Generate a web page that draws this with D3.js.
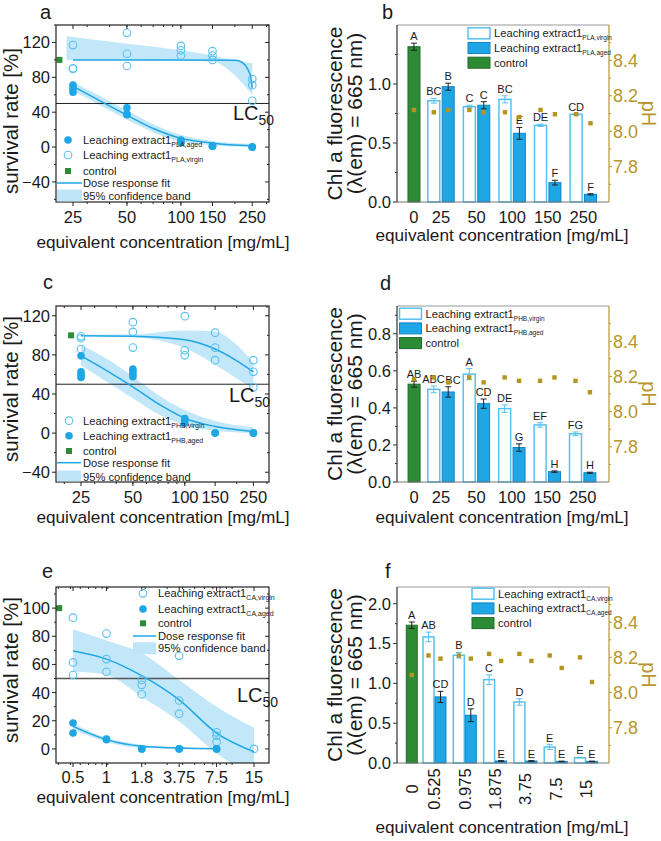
<!DOCTYPE html>
<html><head><meta charset="utf-8">
<script src="https://cdn.jsdelivr.net/npm/d3@7"></script>
<style>body{margin:0;background:#fff}text{font-family:"Liberation Sans",Arial,sans-serif;fill:#1a1a1a}</style>
</head><body><script>
// ---------------- DATA ----------------
// Panel a (PLA survival)
const concPLA = [25, 50, 100, 150, 250];
const survPLAvirgin = [[117, 90, 90], [131, 107, 93], [116, 111, 105], [110, 105, 100], [78, 71, 53]];
const survPLAaged = [[71, 67, 63], [45, 38, 37], [8, 6, 5], [1.5, 1, 1], [0, 0, 0]];
const ctrlPLA = [21, 100];
const fitPLAvirgin = [[25, 100], [100, 100], [200, 99.5], [220, 97], [235, 90], [245, 80], [250, 68]];
const bandPLAvirginUp = [[23, 127], [50, 118.5], [100, 111], [150, 105], [200, 99], [250, 96]];
const bandPLAvirginLo = [[23, 100], [50, 100], [100, 99], [150, 98], [200, 82], [250, 60]];
const fitPLAaged = [[25, 69.7], [35.4, 53], [50, 36.6], [70.7, 21], [100, 10], [150, 4.5], [250, 1.5]];
const bandPLAagedUp = [[25, 75], [35.4, 58.5], [50, 42], [70.7, 26], [100, 14], [150, 7], [250, 3.5]];
const bandPLAagedLo = [[25, 64.5], [35.4, 48], [50, 31.5], [70.7, 16.5], [100, 6], [150, 2], [250, 0]];

// Panel c (PHB survival)
const concPHB = [25, 50, 100, 150, 250];
const survPHBvirgin = [[99, 97, 86], [113.5, 103.5, 87.5], [119.6, 84.7, 79.6], [102.7, 87.5, 74.6], [74.6, 62.7, 46.8]];
const survPHBaged = [[79, 62.7, 60, 57], [65.4, 62.7, 60, 57.6], [15, 13, 10], [0, 0], [0, 0]];
const ctrlPHB = [21.9, 100];
const fitPHBvirgin = [[25, 99.5], [50, 99], [100, 95.5], [150, 86], [192, 76], [250, 62.7]];
const bandPHBvirginUp = [[25, 100.5], [50, 101], [100, 105], [150, 104], [192, 93], [250, 72]];
const bandPHBvirginLo = [[25, 99.5], [50, 98], [100, 87], [150, 70], [192, 58], [250, 45]];
const fitPHBaged = [[25, 79], [35.2, 64], [50, 47.4], [71.7, 29], [100, 15.2], [150, 6.8], [250, 1.7]];
const bandPHBagedUp = [[25, 90], [35.2, 76], [50, 58], [71.7, 38], [100, 23.7], [150, 12.5], [250, 6]];
const bandPHBagedLo = [[25, 69.5], [35.2, 52.5], [50, 35.6], [71.7, 18.6], [100, 8.5], [150, 2.3], [250, 0]];

// Panel e (CA survival)
const concCA = [0.525, 0.975, 1.875, 3.75, 7.5, 15];
const tickLabelsCA = ["0.5", "1", "1.8", "3.75", "7.5", "15"];
const survCAvirgin = [[93.2, 61.4, 52.5], [81.9, 63.8, 54.8], [49, 45.5, 38.8], [66.1, 34.4, 25], [11.8, 9.4, 5], [0]];
const survCAaged = [[18.4, 11.3], [7, 6.6], [0, 0], [0, 0], [0, 0]];
const ctrlCA = [0.406, 100];
const fitCAvirgin = [[0.525, 69.5], [0.975, 63.8], [1.875, 52], [3.75, 34.8], [7.5, 11.3], [15, -2]];
const bandCAvirginUp = [[0.525, 85], [0.975, 77], [1.875, 68], [3.75, 49], [7.5, 30], [15, 15]];
const bandCAvirginLo = [[0.525, 55], [0.975, 52.5], [1.875, 37], [3.75, 19.5], [7.5, -3], [15, -20]];
const fitCAaged = [[0.525, 16], [0.975, 6.6], [1.875, 1.9], [3.75, 0.7], [7.5, 0.2]];
const bandCAagedUp = [[0.525, 18], [0.975, 8], [1.875, 3], [3.75, 1.2], [7.5, 0.6]];
const bandCAagedLo = [[0.525, 14], [0.975, 5], [1.875, 0.8], [3.75, 0], [7.5, 0]];

// Panel b (PLA Chl a)
const groupsPLA = ["25", "50", "100", "150", "250"];
const chlPLAvirgin = [0.858, 0.808, 0.870, 0.650, 0.743];
const errPLAvirgin = [0.02, 0.012, 0.03, 0.01, 0.006];
const chlPLAaged = [0.977, 0.820, 0.582, 0.164, 0.065];
const errPLAaged = [0.03, 0.03, 0.05, 0.02, 0.005];
const chlPLActrl = [1.316, 0.03];
const letPLAvirgin = ["BC", "C", "BC", "DE", "CD"];
const letPLAaged = ["B", "C", "E", "F", "F"];
const letPLActrl = "A";
const phPLAvirgin = [8.107, 8.12, 8.107, 8.12, 8.096];
const phPLAaged = [8.12, 8.107, 8.08, 8.096, 8.045];
const phPLActrl = 8.12;

// Panel d (PHB Chl a)
const groupsPHB = ["25", "50", "100", "150", "250"];
const chlPHBvirgin = [0.50, 0.582, 0.396, 0.308, 0.26];
const errPHBvirgin = [0.018, 0.03, 0.02, 0.012, 0.01];
const chlPHBaged = [0.486, 0.423, 0.186, 0.056, 0.05];
const errPHBaged = [0.028, 0.025, 0.02, 0.004, 0.003];
const chlPHBctrl = [0.528, 0.016];
const letPHBvirgin = ["ABC", "A", "DE", "EF", "FG"];
const letPHBaged = ["BC", "CD", "G", "H", "H"];
const letPHBctrl = "AB";
const phPHBvirgin = [8.194, 8.194, 8.194, 8.175, 8.175];
const phPHBaged = [8.166, 8.166, 8.175, 8.194, 8.11];
const phPHBctrl = 8.184;

// Panel f (CA Chl a)
const groupsCA = ["0.525", "0.975", "1.875", "3.75", "7.5", "15"];
const chlCAvirgin = [1.583, 1.353, 1.047, 0.766, 0.20, 0.067];
const errCAvirgin = [0.06, 0.035, 0.06, 0.04, 0.03, 0.004];
const chlCAaged = [0.83, 0.60, 0.025, 0.025, 0.02, 0.02];
const errCAaged = [0.07, 0.08, 0.004, 0.004, 0.003, 0.003];
const chlCActrl = [1.73, 0.04];
const letCAvirgin = ["AB", "B", "C", "D", "E", "E"];
const letCAaged = ["CD", "D", "E", "E", "E", "E"];
const letCActrl = "A";
const phCAvirgin = [8.211, 8.211, 8.22, 8.22, 8.211, 8.2];
const phCAaged = [8.193, 8.193, 8.18, 8.18, 8.14, 8.06];
const phCActrl = 8.10;

// ---------------- STYLE ----------------
const C_AGED = "#1fa6e5", C_AGED_S = "#1683c4", C_VIR = "#56c1f1", C_BAND = "#bfe6f8",
      C_CTRL = "#2e8b35", C_CTRL_S = "#1f6b28", C_PH = "#b5941f", C_PHT = "#b8962e";
const XTITLE = "equivalent concentration [mg/mL]";
const FS_TICK = 16.5, FS_XT = 17.2, FS_YT = 20.5, FS_LET = 20;

const svg = d3.select("body").append("svg").attr("width", 661).attr("height", 841);
let clipN = 0;

function subText(g, x, y, main, sub, size, subSize, dy) {
  const t = g.append("text").attr("x", x).attr("y", y).attr("font-size", size).text(main);
  if (sub) t.append("tspan").attr("font-size", subSize).attr("dy", dy).text(sub);
  return t;
}

// ---------------- SCATTER PANEL ----------------
function scatter(o) {
  const g = svg.append("g");
  const x = d3.scaleLog().domain(o.xDom).range([o.L, o.R]);
  const y = d3.scaleLinear().domain(o.yDom).range([o.B, o.T]);
  const id = "clip" + (clipN++);
  svg.append("clipPath").attr("id", id).append("rect")
    .attr("x", o.L).attr("y", o.T).attr("width", o.R - o.L).attr("height", o.B - o.T);
  const pg = g.append("g").attr("clip-path", `url(#${id})`);
  const area = (up, lo) => d3.area().x((d, i) => x(up[i][0])).y1((d, i) => y(up[i][1])).y0((d, i) => y(lo[i][1])).curve(d3.curveMonotoneX)(up);
  o.bands.forEach(b => pg.append("path").attr("d", area(b[0], b[1])).attr("fill", C_BAND).attr("opacity", 0.95));
  pg.append("line").attr("x1", o.L).attr("x2", o.R).attr("y1", y(50)).attr("y2", y(50))
    .attr("stroke", o.lcColor).attr("stroke-width", o.lcW);
  const line = d3.line().x(d => x(d[0])).y(d => y(d[1])).curve(d3.curveMonotoneX);
  o.fits.forEach(f => pg.append("path").attr("d", line(f)).attr("fill", "none").attr("stroke", C_AGED).attr("stroke-width", 1.5));
  // points
  o.virgin.forEach((vals, i) => vals.forEach(v =>
    g.append("circle").attr("cx", x(o.conc[i])).attr("cy", y(v)).attr("r", 3.8)
      .attr("fill", "none").attr("stroke", C_VIR).attr("stroke-width", 1.1)));
  o.aged.forEach((vals, i) => vals.forEach(v =>
    g.append("circle").attr("cx", x(o.conc[i])).attr("cy", y(v)).attr("r", 3.8).attr("fill", C_AGED)));
  g.append("rect").attr("x", x(o.ctrl[0]) - 3).attr("y", y(o.ctrl[1]) - 3).attr("width", 6).attr("height", 6).attr("fill", C_CTRL);
  // frame
  g.append("rect").attr("x", o.L).attr("y", o.T).attr("width", o.R - o.L).attr("height", o.B - o.T)
    .attr("fill", "none").attr("stroke", "#222").attr("stroke-width", 1.2);
  // y ticks
  o.yTicks.forEach(t => {
    g.append("line").attr("x1", o.L - 4).attr("x2", o.L).attr("y1", y(t)).attr("y2", y(t)).attr("stroke", "#222");
    g.append("line").attr("x1", o.R).attr("x2", o.R - 4).attr("y1", y(t)).attr("y2", y(t)).attr("stroke", "#222");
    g.append("text").attr("x", o.L - 6).attr("y", y(t)).attr("dy", "0.36em").attr("text-anchor", "end")
      .attr("font-size", FS_TICK).text(t < 0 ? "\u2212" + Math.abs(t) : t);
  });
  o.yMinor.forEach(t => {
    g.append("line").attr("x1", o.L - 2).attr("x2", o.L).attr("y1", y(t)).attr("y2", y(t)).attr("stroke", "#222");
    g.append("line").attr("x1", o.R).attr("x2", o.R - 2).attr("y1", y(t)).attr("y2", y(t)).attr("stroke", "#222");
  });
  // x ticks
  x.ticks().filter(t => t > o.xDom[0] && t < o.xDom[1]).forEach(t => {
    g.append("line").attr("x1", x(t)).attr("x2", x(t)).attr("y1", o.B).attr("y2", o.B + 2).attr("stroke", "#222");
    g.append("line").attr("x1", x(t)).attr("x2", x(t)).attr("y1", o.T).attr("y2", o.T + 2).attr("stroke", "#222");
  });
  o.conc.forEach((c, i) => {
    g.append("line").attr("x1", x(c)).attr("x2", x(c)).attr("y1", o.B).attr("y2", o.B + 4).attr("stroke", "#222");
    g.append("line").attr("x1", x(c)).attr("x2", x(c)).attr("y1", o.T).attr("y2", o.T + 4).attr("stroke", "#222");
    g.append("text").attr("x", x(c)).attr("y", o.xLabY).attr("text-anchor", "middle").attr("font-size", FS_TICK).text(o.xLabels[i]);
  });
  g.append("text").attr("x", (o.L + o.R) / 2 + 0.5).attr("y", o.xTitleY).attr("text-anchor", "middle").attr("font-size", FS_XT).text(XTITLE);
  g.append("text").attr("transform", `translate(18,${o.yTitleC}) rotate(-90)`).attr("text-anchor", "middle")
    .attr("font-size", FS_YT).text("survival rate [%]");
  g.append("text").attr("x", o.letX).attr("y", o.letY).attr("font-size", FS_LET).text(o.letter);
  subText(g, o.lc[0], o.lc[1], "LC", "50", 20, 14, 5);
  // legend
  const lg = o.legend;
  lg.rows.forEach((r, i) => {
    const cy = lg.ys[i];
    if (r.type === "aged") g.append("circle").attr("cx", lg.sx).attr("cy", cy).attr("r", 3.8).attr("fill", C_AGED);
    if (r.type === "virgin") g.append("circle").attr("cx", lg.sx).attr("cy", cy).attr("r", 3.8).attr("fill", "none").attr("stroke", C_VIR).attr("stroke-width", 1.1);
    if (r.type === "ctrl") g.append("rect").attr("x", lg.sx - 3).attr("y", cy - 3).attr("width", 6).attr("height", 6).attr("fill", C_CTRL);
    if (r.type === "fit") g.append("line").attr("x1", lg.lx[0]).attr("x2", lg.lx[1]).attr("y1", cy).attr("y2", cy).attr("stroke", C_AGED).attr("stroke-width", 1.5);
    if (r.type === "band") g.append("rect").attr("x", lg.lx[0]).attr("y", cy - 6).attr("width", lg.lx[1] - lg.lx[0]).attr("height", Math.min(12, o.B - (cy - 6) - 0.6)).attr("fill", C_BAND);
    subText(g, lg.tx, cy + 4, r.text, r.sub, 11.2, 7, 3);
  });
}

// ---------------- BAR PANEL ----------------
function bars(o) {
  const g = svg.append("g");
  const y = d3.scaleLinear().domain([0, o.yMax]).range([o.B, o.T]);
  const yp = d3.scaleLinear().domain([7.6, 8.6]).range([o.B, o.T]);
  const n = o.groups.length;
  const gx = d3.scaleLinear().domain([1, n]).range([o.c1, o.cN]);
  const xc = gx(1 - o.ctrlGap);
  const vx = i => gx(i + 1) - o.off, ax = i => gx(i + 1) + o.off;
  const bw = o.bw;
  function bar(cx, v, fill, stroke, sw) {
    g.append("rect").attr("x", cx - bw / 2).attr("y", y(v)).attr("width", bw).attr("height", o.B - y(v))
      .attr("fill", fill).attr("stroke", stroke).attr("stroke-width", sw);
  }
  function err(cx, v, e, col) {
    g.append("line").attr("x1", cx).attr("x2", cx).attr("y1", y(v - e)).attr("y2", y(v + e)).attr("stroke", col);
    [v - e, v + e].forEach(w => g.append("line").attr("x1", cx - 3).attr("x2", cx + 3).attr("y1", y(w)).attr("y2", y(w)).attr("stroke", col));
  }
  function lab(cx, v, e, t) {
    g.append("text").attr("x", cx).attr("y", y(v + e) - 3).attr("text-anchor", "middle").attr("font-size", 11).text(t);
  }
  const sV = i => (o.shiftV ? o.shiftV[i] : 0), sA = i => (o.shiftA ? o.shiftA[i] : 0);
  bar(xc, o.ctrl[0], C_CTRL, C_CTRL_S, 1);
  err(xc, o.ctrl[0], o.ctrl[1], "#222");
  lab(xc, o.ctrl[0], o.ctrl[1], o.letCtrl);
  o.virgin.forEach((v, i) => { bar(vx(i), v, "#fff", C_VIR, 1.5); err(vx(i), v, o.vErr[i], C_VIR); lab(vx(i) + sV(i), v, o.vErr[i], o.letV[i]); });
  o.aged.forEach((v, i) => { bar(ax(i), v, C_AGED, C_AGED_S, 1); err(ax(i), v, o.aErr[i], "#222"); lab(ax(i) + sA(i), v, o.aErr[i], o.letA[i]); });
  // pH
  const sq = (cx, p) => g.append("rect").attr("x", cx - 2.2).attr("y", yp(p) - 2.2).attr("width", 4.4).attr("height", 4.4).attr("fill", C_PH);
  sq(xc, o.phCtrl);
  o.phV.forEach((p, i) => sq(vx(i), p));
  o.phA.forEach((p, i) => sq(ax(i), p));
  // frame
  g.append("line").attr("x1", o.L).attr("x2", o.R).attr("y1", o.T).attr("y2", o.T).attr("stroke", "#999");
  g.append("line").attr("x1", o.L).attr("x2", o.R).attr("y1", o.B).attr("y2", o.B).attr("stroke", "#777");
  g.append("line").attr("x1", o.L).attr("x2", o.L).attr("y1", o.T).attr("y2", o.B).attr("stroke", "#333").attr("stroke-width", 1.2);
  g.append("line").attr("x1", o.R).attr("x2", o.R).attr("y1", o.T).attr("y2", o.B).attr("stroke", C_PHT).attr("stroke-width", 1.2);
  // left ticks
  o.yTicks.forEach(t => {
    g.append("line").attr("x1", o.L - 4).attr("x2", o.L).attr("y1", y(t)).attr("y2", y(t)).attr("stroke", "#333");
    g.append("text").attr("x", o.L - 6).attr("y", y(t)).attr("dy", "0.36em").attr("text-anchor", "end").attr("font-size", FS_TICK).text(d3.format(".1f")(t));
  });
  o.yMinor.forEach(t => g.append("line").attr("x1", o.L - 2).attr("x2", o.L).attr("y1", y(t)).attr("y2", y(t)).attr("stroke", "#333"));
  // right pH ticks
  [7.8, 8.0, 8.2, 8.4].forEach(t => {
    g.append("line").attr("x1", o.R).attr("x2", o.R + 3).attr("y1", yp(t)).attr("y2", yp(t)).attr("stroke", C_PHT);
    g.append("text").attr("x", o.R + 4).attr("y", yp(t)).attr("dy", "0.36em").attr("font-size", 18).style("fill", C_PHT).text(d3.format(".1f")(t));
  });
  [7.7, 7.9, 8.1, 8.3, 8.5].forEach(t => g.append("line").attr("x1", o.R).attr("x2", o.R + 2).attr("y1", yp(t)).attr("y2", yp(t)).attr("stroke", C_PHT));
  g.append("text").attr("transform", `translate(642,${(o.T + o.B) / 2}) rotate(90)`).attr("text-anchor", "middle")
    .attr("font-size", 20).style("fill", C_PHT).text("pH");
  // x labels
  const labs = [["0", xc]].concat(o.groups.map((gname, i) => [gname, gx(i + 1)]));
  labs.forEach(([t, cx]) => {
    if (o.rotate) g.append("text").attr("transform", `translate(${cx},${o.xLabY}) rotate(-90)`).attr("text-anchor", "middle").attr("dy", "0.36em").attr("font-size", FS_TICK).text(t);
    else g.append("text").attr("x", cx).attr("y", o.xLabY).attr("text-anchor", "middle").attr("font-size", FS_TICK).text(t);
  });
  g.append("text").attr("x", 502).attr("y", o.xTitleY).attr("text-anchor", "middle").attr("font-size", FS_XT).text(XTITLE);
  const cyT = (o.T + o.B) / 2;
  g.append("text").attr("transform", `translate(342,${cyT}) rotate(-90)`).attr("text-anchor", "middle").attr("font-size", 21).text("Chl a fluorescence");
  g.append("text").attr("transform", `translate(362,${cyT}) rotate(-90)`).attr("text-anchor", "middle").attr("font-size", 21).text("(\u03bb(em) = 665 nm)");
  g.append("text").attr("x", o.letX).attr("y", o.letY).attr("font-size", FS_LET).text(o.letter);
  // legend
  const lg = o.legend;
  [["v", "Leaching extract1", o.sub + ",virgin"], ["a", "Leaching extract1", o.sub + ",aged"], ["c", "control", null]].forEach((r, i) => {
    const cy = lg.y + i * 14.7;
    const fill = r[0] === "v" ? "#fff" : r[0] === "a" ? C_AGED : C_CTRL;
    const st = r[0] === "v" ? C_VIR : r[0] === "a" ? C_AGED_S : C_CTRL_S;
    g.append("rect").attr("x", lg.x).attr("y", cy - 5.5).attr("width", 22).attr("height", 11).attr("fill", fill).attr("stroke", st).attr("stroke-width", r[0] === "v" ? 1.5 : 1);
    subText(g, lg.x + 26, cy + 4, r[1], r[2], 11.2, 6.5, 3);
  });
}

// ---------------- PANELS ----------------
scatter({
  L: 56, R: 269, T: 25, B: 202, xDom: [20.1, 310], yDom: [-63, 140],
  yTicks: [-40, 0, 40, 80, 120], yMinor: [-60, -20, 20, 60, 100, 140],
  conc: concPLA, xLabels: concPLA.map(String), virgin: survPLAvirgin, aged: survPLAaged, ctrl: ctrlPLA,
  fits: [fitPLAvirgin, fitPLAaged], bands: [[bandPLAvirginUp, bandPLAvirginLo], [bandPLAagedUp, bandPLAagedLo]],
  lcColor: "#222", lcW: 1, lc: [233, 120], letter: "a", letX: 40, letY: 19, xLabY: 223, xTitleY: 248, yTitleC: 121,
  legend: { sx: 68, tx: 83, lx: [57, 82], ys: [140, 155, 171, 183, 195.5],
    rows: [{ type: "aged", text: "Leaching extract1", sub: "PLA,aged" }, { type: "virgin", text: "Leaching extract1", sub: "PLA,virgin" },
      { type: "ctrl", text: "control" }, { type: "fit", text: "Dose response fit" }, { type: "band", text: "95% confidence band" }] }
});
scatter({
  L: 56, R: 269, T: 306, B: 482, xDom: [17.9, 308], yDom: [-50, 130],
  yTicks: [-40, 0, 40, 80, 120], yMinor: [-20, 20, 60, 100],
  conc: concPHB, xLabels: concPHB.map(String), virgin: survPHBvirgin, aged: survPHBaged, ctrl: ctrlPHB,
  fits: [fitPHBvirgin, fitPHBaged], bands: [[bandPHBvirginUp, bandPHBvirginLo], [bandPHBagedUp, bandPHBagedLo]],
  lcColor: "#222", lcW: 1, lc: [229, 402], letter: "c", letX: 43, letY: 289, xLabY: 503, xTitleY: 523, yTitleC: 389,
  legend: { sx: 69, tx: 83, lx: [57, 81], ys: [420.7, 435.7, 451, 462.7, 476.5],
    rows: [{ type: "virgin", text: "Leaching extract1", sub: "PHB,virgin" }, { type: "aged", text: "Leaching extract1", sub: "PHB,aged" },
      { type: "ctrl", text: "control" }, { type: "fit", text: "Dose response fit" }, { type: "band", text: "95% confidence band" }] }
});
scatter({
  L: 56, R: 269, T: 587, B: 763, xDom: [0.383, 19.8], yDom: [-10, 115],
  yTicks: [0, 20, 40, 60, 80, 100], yMinor: [10, 30, 50, 70, 90, 110],
  conc: concCA, xLabels: tickLabelsCA, virgin: survCAvirgin, aged: survCAaged, ctrl: ctrlCA,
  fits: [fitCAvirgin, fitCAaged], bands: [[bandCAvirginUp, bandCAvirginLo], [bandCAagedUp, bandCAagedLo]],
  lcColor: "#555", lcW: 1.5, lc: [237, 702], letter: "e", letX: 42, letY: 578, xLabY: 783, xTitleY: 803, yTitleC: 670,
  legend: { sx: 143, tx: 158, lx: [133, 156], ys: [593.3, 609, 623.3, 636, 648.3],
    rows: [{ type: "virgin", text: "Leaching extract1", sub: "CA,virgin" }, { type: "aged", text: "Leaching extract1", sub: "CA,aged" },
      { type: "ctrl", text: "control" }, { type: "fit", text: "Dose response fit" }, { type: "band", text: "95% confidence band" }] }
});

bars({
  L: 397, R: 609, T: 25, B: 202, yMax: 1.5, yTicks: [0, 0.5, 1.0], yMinor: [0.25, 0.75, 1.25],
  groups: groupsPLA, c1: 441, cN: 583.3, ctrlGap: 0.76, bw: 12, off: 7.2,
  virgin: chlPLAvirgin, vErr: errPLAvirgin, aged: chlPLAaged, aErr: errPLAaged, ctrl: chlPLActrl,
  letV: letPLAvirgin, letA: letPLAaged, letCtrl: letPLActrl, phV: phPLAvirgin, phA: phPLAaged, phCtrl: phPLActrl,
  xLabY: 223, xTitleY: 241, letter: "b", letX: 382, letY: 19, legend: { x: 468, y: 33.3 }, sub: "PLA"
});
bars({
  L: 397, R: 609, T: 306, B: 482, yMax: 0.95, yTicks: [0, 0.2, 0.4, 0.6, 0.8], yMinor: [0.1, 0.3, 0.5, 0.7, 0.9],
  groups: groupsPHB, c1: 441, cN: 582.7, ctrlGap: 0.76, bw: 12, off: 7.2, shiftV: [-0.3, 0, 0, 0, 0], shiftA: [4.8, 0, 0, 0, 0],
  virgin: chlPHBvirgin, vErr: errPHBvirgin, aged: chlPHBaged, aErr: errPHBaged, ctrl: chlPHBctrl,
  letV: letPHBvirgin, letA: letPHBaged, letCtrl: letPHBctrl, phV: phPHBvirgin, phA: phPHBaged, phCtrl: phPHBctrl,
  xLabY: 503, xTitleY: 523, letter: "d", letX: 380, letY: 290, legend: { x: 399.5, y: 313.7 }, sub: "PHB"
});
bars({
  L: 397, R: 609, T: 587, B: 763, yMax: 2.21, yTicks: [0, 0.5, 1.0, 1.5, 2.0], yMinor: [0.25, 0.75, 1.25, 1.75],
  groups: groupsCA, c1: 434.5, cN: 586, ctrlGap: 0.75, bw: 11, off: 6,
  virgin: chlCAvirgin, vErr: errCAvirgin, aged: chlCAaged, aErr: errCAaged, ctrl: chlCActrl,
  letV: letCAvirgin, letA: letCAaged, letCtrl: letCActrl, phV: phCAvirgin, phA: phCAaged, phCtrl: phCActrl,
  rotate: true, xLabY: 789, xTitleY: 833, letter: "f", letX: 385, letY: 578, legend: { x: 472, y: 593.7 }, sub: "CA"
});
</script></body></html>
